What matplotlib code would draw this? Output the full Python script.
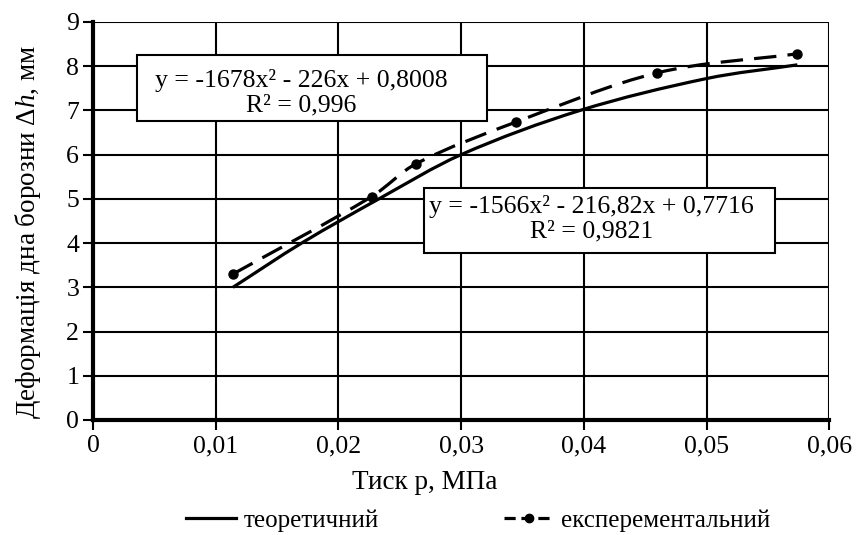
import numpy as np
import matplotlib
matplotlib.use('Agg')
import matplotlib.pyplot as plt
from matplotlib.path import Path
from matplotlib.patches import PathPatch, Rectangle
from matplotlib.lines import Line2D

plt.rcParams['font.family'] = ['Liberation Serif', 'DejaVu Serif']
plt.rcParams['mathtext.fontset'] = 'custom'
plt.rcParams['mathtext.rm'] = 'Liberation Serif'
plt.rcParams['mathtext.it'] = 'Liberation Serif:italic'

# дані
p_theor = [0.0114, 0.0170, 0.0233, 0.0300, 0.0397, 0.0500, 0.0574]
dh_theor = [3.00, 4.00, 5.00, 6.00, 7.00, 7.72, 8.03]

p_exp = [0.0114, 0.0227, 0.0263, 0.0345, 0.0460, 0.0574]
dh_exp = [3.30, 5.05, 5.79, 6.74, 7.85, 8.28]

x_ticks = [0, 0.01, 0.02, 0.03, 0.04, 0.05, 0.06]
x_ticklabels = ['0', '0,01', '0,02', '0,03', '0,04', '0,05', '0,06']
y_ticks = list(range(0, 10))

eq_exp = 'y = -1678x² - 226x + 0,8008\nR² = 0,996'
eq_theor = 'y = -1566x² - 216,82x + 0,7716\nR² = 0,9821'


def smooth_path(xs, ys):
    # згладжена лінія: кубічний Ерміт по x -> криві Безьє
    xs = np.asarray(xs, float)
    ys = np.asarray(ys, float)
    n = len(xs)
    m = np.empty(n)
    m[0] = (ys[1] - ys[0]) / (xs[1] - xs[0])
    m[-1] = (ys[-1] - ys[-2]) / (xs[-1] - xs[-2])
    m[1:-1] = (ys[2:] - ys[:-2]) / (xs[2:] - xs[:-2])
    verts = [(xs[0], ys[0])]
    codes = [Path.MOVETO]
    for i in range(n - 1):
        h = (xs[i + 1] - xs[i]) / 3
        verts += [(xs[i] + h, ys[i] + m[i] * h),
                  (xs[i + 1] - h, ys[i + 1] - m[i + 1] * h),
                  (xs[i + 1], ys[i + 1])]
        codes += [Path.CURVE4] * 3
    return Path(verts, codes)


fig = plt.figure(figsize=(8.62, 5.35), dpi=100)
ax = fig.add_axes([0.108, 0.215, 0.854, 0.744])

ax.set_xlim(0, 0.06)
ax.set_ylim(0, 9)
ax.set_xticks(x_ticks)
ax.set_xticklabels(x_ticklabels)
ax.set_yticks(y_ticks)
ax.grid(True, color='black', lw=1.5, zorder=0)
ax.set_axisbelow(True)

for s in ['top', 'right']:
    ax.spines[s].set_visible(False)
for s in ['left', 'bottom']:
    ax.spines[s].set_linewidth(3)
    ax.spines[s].set_zorder(3)
ax.tick_params(axis='both', which='major', direction='out', length=7, width=1.5,
               labelsize=18.5, color='black')
ax.tick_params(axis='y', pad=3)
ax.tick_params(axis='x', pad=4)

# криві
ax.add_patch(PathPatch(smooth_path(p_theor, dh_theor), fill=False, lw=2.3,
                       color='black', capstyle='butt', zorder=2))
ax.add_patch(PathPatch(smooth_path(p_exp, dh_exp), fill=False, lw=2.3,
                       color='black', linestyle=(0, (7, 3.5)), zorder=2))
ax.plot(p_exp, dh_exp, 'o', color='black', ms=6.5, zorder=3)

# рамки з рівняннями
ax.add_patch(Rectangle((0.00357, 6.76), 0.02855, 1.50, fc='white', ec='black',
                       lw=1.5, zorder=4))
ax.text(0.0170, 7.40, eq_exp, ha='center', va='center', fontsize=18.5,
        linespacing=1.15, zorder=5)
ax.add_patch(Rectangle((0.02693, 3.78), 0.02863, 1.47, fc='white', ec='black',
                       lw=1.5, zorder=4))
ax.text(0.0406, 4.55, eq_theor, ha='center', va='center', fontsize=18.5,
        linespacing=1.15, zorder=5)

ax.set_xlabel('Тиск p, МПа', fontsize=19.5)
ax.xaxis.set_label_coords(0.45, -0.125)
ax.set_ylabel('Деформація дна борозни $\\mathit{Δh}$, мм', fontsize=19.5)
ax.yaxis.set_label_coords(-0.068, 0.472)

handles = [Line2D([], [], color='black', lw=2.3),
           Line2D([], [], color='black', lw=2.3, ls=(0, (3.5, 1.8)), marker='o', ms=6)]
fig.legend(handles, ['теоретичний', 'експерементальний'], loc='center',
           bbox_to_anchor=(0.555, 0.027), ncol=2, frameon=False, fontsize=18,
           handlelength=2.0, handletextpad=0.3, columnspacing=5.0)

plt.savefig('out.png', dpi=100)
